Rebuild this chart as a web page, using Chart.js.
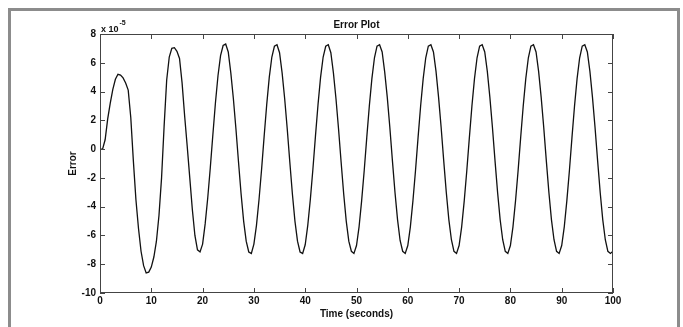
<!DOCTYPE html>
<html>
<head>
<meta charset="utf-8">
<script src="https://cdn.jsdelivr.net/npm/chart.js@4/dist/chart.umd.min.js"></script>
<style>
html,body{margin:0;padding:0;background:#fff;overflow:hidden;}
#frame{position:absolute;left:8px;top:8px;width:672px;height:330px;border:3px solid #8c8c8c;box-sizing:border-box;}
#c{position:absolute;left:0;top:0;}
</style>
</head>
<body>
<div id="frame"></div>
<canvas id="c" width="683" height="327"></canvas>
<script>
// Time axis (seconds)
const timeSec = [
 0,0.5,1,1.5,2,2.5,3,3.5,4,4.5,5,5.5,6,6.5,7,7.5,8,8.5,9,9.5,
 10,10.5,11,11.5,12,12.5,13,13.5,14,14.5,15,15.5,16,16.5,17,17.5,18,18.5,19,19.5,
 20,20.5,21,21.5,22,22.5,23,23.5,24,24.5,25,25.5,26,26.5,27,27.5,28,28.5,29,29.5,
 30,30.5,31,31.5,32,32.5,33,33.5,34,34.5,35,35.5,36,36.5,37,37.5,38,38.5,39,39.5,
 40,40.5,41,41.5,42,42.5,43,43.5,44,44.5,45,45.5,46,46.5,47,47.5,48,48.5,49,49.5,
 50,50.5,51,51.5,52,52.5,53,53.5,54,54.5,55,55.5,56,56.5,57,57.5,58,58.5,59,59.5,
 60,60.5,61,61.5,62,62.5,63,63.5,64,64.5,65,65.5,66,66.5,67,67.5,68,68.5,69,69.5,
 70,70.5,71,71.5,72,72.5,73,73.5,74,74.5,75,75.5,76,76.5,77,77.5,78,78.5,79,79.5,
 80,80.5,81,81.5,82,82.5,83,83.5,84,84.5,85,85.5,86,86.5,87,87.5,88,88.5,89,89.5,
 90,90.5,91,91.5,92,92.5,93,93.5,94,94.5,95,95.5,96,96.5,97,97.5,98,98.5,99,99.5,
 100
];
// Error values (x 10^-5)
const errorE5 = [
 0,0,0.65,2.1,3.2,4.15,4.85,5.2,5.15,4.95,4.6,4.1,2.2,-0.8,-3.5,-5.5,-7.1,-8.1,-8.6,-8.55,
 -8.2,-7.5,-6.4,-4.6,-2.0,1.6,4.8,6.4,7.0,7.05,6.8,6.3,4.6,2.3,0.2,-2.0,-4.2,-6.0,-7.0,-7.15,
 -6.6,-5.2,-3.4,-1.3,1.0,3.2,5.1,6.5,7.2,7.3,6.75,5.3,3.5,1.4,-0.9,-3.1,-5.0,-6.4,-7.15,-7.25,
 -6.6,-5.3,-3.5,-1.4,0.9,3.1,5.0,6.4,7.15,7.25,6.7,5.3,3.5,1.4,-0.9,-3.1,-5.0,-6.4,-7.15,-7.25,
 -6.65,-5.3,-3.5,-1.4,0.9,3.1,5.0,6.4,7.15,7.25,6.7,5.3,3.5,1.4,-0.9,-3.1,-5.0,-6.4,-7.1,-7.25,
 -6.7,-5.4,-3.6,-1.5,0.8,3.0,4.9,6.35,7.15,7.25,6.75,5.35,3.6,1.5,-0.8,-3.0,-4.9,-6.35,-7.1,-7.25,
 -6.7,-5.4,-3.6,-1.5,0.8,3.0,4.9,6.35,7.15,7.25,6.75,5.4,3.6,1.5,-0.8,-3.0,-4.9,-6.3,-7.1,-7.25,
 -6.7,-5.4,-3.6,-1.5,0.8,3.0,4.9,6.35,7.15,7.25,6.75,5.4,3.6,1.5,-0.8,-3.0,-4.9,-6.3,-7.1,-7.25,
 -6.7,-5.4,-3.6,-1.5,0.8,3.0,4.9,6.35,7.15,7.25,6.75,5.4,3.6,1.5,-0.8,-3.0,-4.9,-6.3,-7.1,-7.25,
 -6.7,-5.4,-3.6,-1.5,0.8,3.0,4.9,6.35,7.15,7.25,6.75,5.4,3.6,1.5,-0.8,-3.0,-4.9,-6.3,-7.1,-7.25,
 -7.1
];
const xTickValues = [0,10,20,30,40,50,60,70,80,90,100];
const yTickValues = [-10,-8,-6,-4,-2,0,2,4,6,8];
const chartTitle = 'Error Plot';
const xTitle = 'Time (seconds)';
const yTitle = 'Error';
const scaleNote = 'x 10';
const scaleExp = '-5';

const FONT = '"Liberation Sans", Arial, sans-serif';
const TEXT = '#111';

const decor = {
  id: 'decor',
  afterDraw(chart) {
    const {ctx, chartArea: a, scales: {x, y}} = chart;
    ctx.save();
    ctx.strokeStyle = '#444';
    ctx.lineWidth = 1;
    ctx.strokeRect(Math.round(a.left) + 0.5, Math.round(a.top) + 0.5,
                   Math.round(a.right - a.left) - 1, Math.round(a.bottom - a.top) - 1);
    ctx.beginPath();
    const tl = 5;
    xTickValues.forEach(v => {
      const px = Math.round(x.getPixelForValue(v)) + 0.5;
      ctx.moveTo(px, a.bottom); ctx.lineTo(px, a.bottom - tl);
      ctx.moveTo(px, a.top); ctx.lineTo(px, a.top + tl);
    });
    yTickValues.forEach(v => {
      const py = Math.round(y.getPixelForValue(v)) + 0.5;
      ctx.moveTo(a.left, py); ctx.lineTo(a.left + tl, py);
      ctx.moveTo(a.right, py); ctx.lineTo(a.right - tl, py);
    });
    ctx.stroke();
    ctx.fillStyle = TEXT;
    ctx.font = 'bold 10px ' + FONT;
    ctx.textAlign = 'center';
    ctx.textBaseline = 'alphabetic';
    ctx.fillText(chartTitle, (a.left + a.right) / 2, 28);
    ctx.textAlign = 'left';
    ctx.font = 'bold 9px ' + FONT;
    ctx.fillText(scaleNote, a.left + 1, 32);
    const w = ctx.measureText(scaleNote).width;
    ctx.font = 'bold 7px ' + FONT;
    ctx.fillText(scaleExp, a.left + 1 + w + 1, 25);
    ctx.restore();
  }
};

new Chart(document.getElementById('c'), {
  type: 'line',
  data: {
    datasets: [{
      data: timeSec.map((t, i) => ({x: t, y: errorE5[i]})),
      borderColor: '#111',
      borderWidth: 1.3,
      pointRadius: 0,
      tension: 0,
      fill: false
    }]
  },
  options: {
    responsive: false,
    animation: false,
    devicePixelRatio: 1,
    layout: {padding: {left: 0, top: 34, right: 70, bottom: 0}},
    plugins: {legend: {display: false}, tooltip: {enabled: false}, title: {display: false}},
    scales: {
      x: {
        type: 'linear', min: 0, max: 100,
        afterBuildTicks: s => { s.ticks = xTickValues.map(v => ({value: v})); },
        ticks: {font: {family: FONT, size: 10, weight: 'bold'}, color: TEXT, padding: 2, maxRotation: 0, autoSkip: false},
        grid: {display: false, drawTicks: false},
        border: {display: false},
        title: {display: true, text: xTitle, color: TEXT, font: {family: FONT, size: 10, weight: 'bold'}, padding: {top: 0, bottom: 7}},
        afterFit: s => { s.height = 34; }
      },
      y: {
        type: 'linear', min: -10, max: 8,
        afterBuildTicks: s => { s.ticks = yTickValues.map(v => ({value: v})); },
        ticks: {font: {family: FONT, size: 10, weight: 'bold'}, color: TEXT, padding: 4, autoSkip: false},
        grid: {display: false, drawTicks: false},
        border: {display: false},
        title: {display: true, text: yTitle, color: TEXT, font: {family: FONT, size: 10, weight: 'bold'}, padding: {top: 67, bottom: 0}},
        afterFit: s => { s.width = 100; }
      }
    }
  },
  plugins: [decor]
});
</script>
</body>
</html>
